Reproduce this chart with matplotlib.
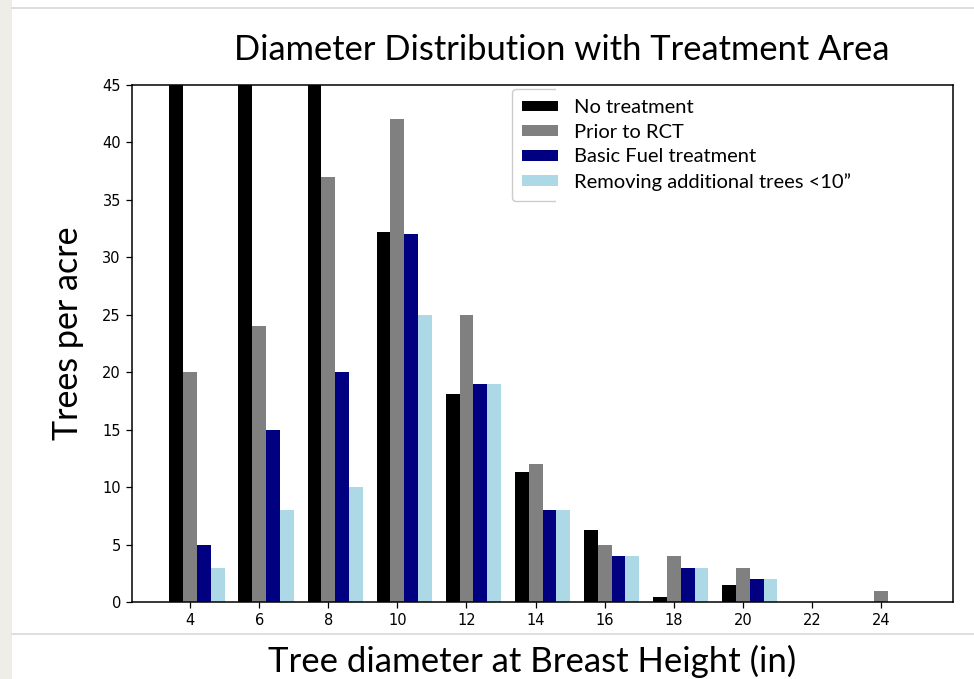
import matplotlib
matplotlib.use("Agg")
import matplotlib.pyplot as plt
import numpy as np
from matplotlib.transforms import Bbox, TransformedBbox, IdentityTransform
from matplotlib.patches import Rectangle
from matplotlib.lines import Line2D

# Diameter classes (inches)
diameters = [4, 6, 8, 10, 12, 14, 16, 18, 20, 22, 24]

# Trees per acre for each scenario
no_treatment = [80, 70, 60, 32.2, 18.1, 11.3, 6.3, 0.4, 1.5, 0, 0]
prior_to_rct = [20, 24, 37, 42, 25, 12, 5, 4, 3, 0, 1]
basic_fuel = [5, 15, 20, 32, 19, 8, 4, 3, 2, 0, 0]
removing_small = [3, 8, 10, 25, 19, 8, 4, 3, 2, 0, 0]

series_labels = ["No treatment", "Prior to RCT", "Basic Fuel treatment",
                 "Removing additional trees <10\u201d"]
series_colors = ["black", "grey", "navy", "lightblue"]

title_text = "Diameter Distribution with Treatment Area"
xlabel_text = "Tree diameter at Breast Height (in)"
ylabel_text = "Trees per acre"

slide_font = ["Lato", "DejaVu Sans"]

fig = plt.figure(figsize=(9.74, 6.79), dpi=100)
fig.patch.set_facecolor("white")

# slide background pieces
fig.add_artist(Rectangle((0, 0), 12 / 974, 1, transform=fig.transFigure,
                         facecolor="#efede8", edgecolor="none", zorder=0))
fig.add_artist(Line2D([12 / 974, 1], [1 - 8 / 679, 1 - 8 / 679],
                      transform=fig.transFigure, color="#d9d9d9", lw=1.2))
fig.add_artist(Line2D([12 / 974, 1], [1 - 634 / 679, 1 - 634 / 679],
                      transform=fig.transFigure, color="#d9d9d9", lw=1.2))

ax = fig.add_axes([132 / 974, 1 - 602 / 679, 821 / 974, 517 / 679])

x = np.array(diameters, dtype=float)
w = 0.4
offsets = [-0.4, 0.0, 0.4, 0.8]
all_series = [no_treatment, prior_to_rct, basic_fuel, removing_small]
handles = []
for vals, off, col, lab in zip(all_series, offsets, series_colors, series_labels):
    h = ax.bar(x + off, vals, width=w, color=col, label=lab)
    handles.append(h)

ax.set_ylim(0, 45)
ax.set_xticks(diameters)
ax.set_yticks(range(0, 46, 5))
ax.tick_params(labelsize=10.5, length=4, width=0.9, pad=4)
for s in ax.spines.values():
    s.set_linewidth(1.1)

leg = ax.legend(handles=handles, labels=series_labels, loc="upper left",
                bbox_to_anchor=(0.458, 1.0), prop={"family": slide_font, "size": 14.5},
                handlelength=1.8, handleheight=0.45, handletextpad=0.8,
                labelspacing=0.38, borderaxespad=0.2, borderpad=0.5,
                fancybox=True, framealpha=1.0, edgecolor="#cccccc")

fig.text(562 / 974, 1 - 50 / 679, title_text, ha="center", va="center",
         fontsize=24.8, family=slide_font)
fig.text(532 / 974, 1 - 661 / 679, xlabel_text, ha="center", va="center",
         fontsize=25, family=slide_font)
fig.text(68 / 974, 1 - 333 / 679, ylabel_text, ha="center", va="center",
         rotation=90, fontsize=24.5, family=slide_font)

# only the left part of the legend frame is visible
fig.canvas.draw()
frame = leg.get_frame()
fb = frame.get_window_extent()
clip = TransformedBbox(Bbox([[fb.x0 - 2, fb.y0 - 2], [fb.x0 + 44, fb.y1 + 2]]),
                       IdentityTransform())
frame.set_clip_box(clip)
frame.set_clip_on(True)

fig.savefig("out.png", dpi=100, facecolor="white")
